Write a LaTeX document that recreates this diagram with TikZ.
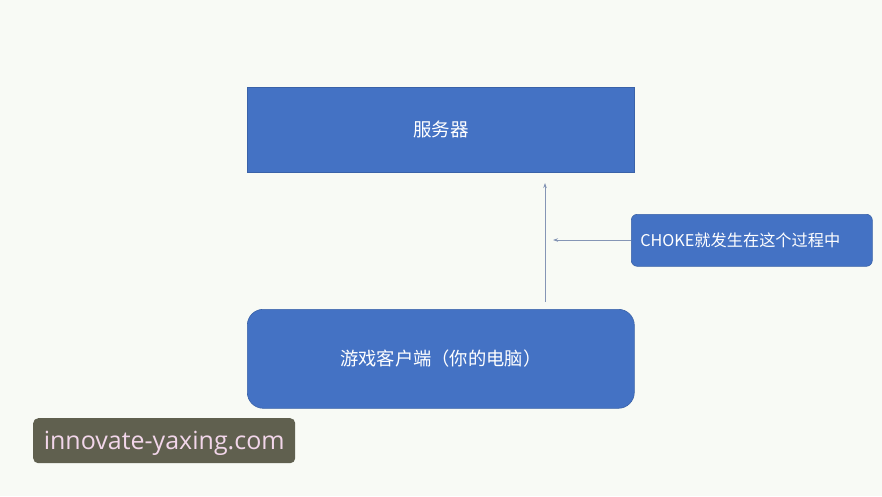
\documentclass[tikz,border=0pt]{standalone}
\usepackage{fontspec}
\newfontfamily\cjk{Noto Sans CJK SC}
\newfontfamily\wm{Open Sans}
\usetikzlibrary{arrows.meta}
\definecolor{bg}{HTML}{F8FAF5}
\definecolor{boxblue}{HTML}{4472C4}
\definecolor{boxedge}{HTML}{3A62A8}
\definecolor{arr}{HTML}{8595B5}
\definecolor{wmbg}{HTML}{60604F}
\definecolor{wmtext}{HTML}{F2D6EA}
\tikzset{
  bluebox/.style={fill=boxblue, draw=boxedge, line width=0.6pt, text=white, inner sep=0pt},
  conn/.style={draw=arr, line width=0.8pt, -{Stealth[length=5pt,width=3.5pt]}},
}
\begin{document}
\begin{tikzpicture}[x=1pt,y=-1pt]
\fill[bg] (0,0) rectangle (882,496);
\useasboundingbox (0,0) rectangle (882,496);
\node[bluebox, minimum width=387pt, minimum height=85pt, anchor=north west] (server) at (247,87) {\cjk\fontsize{18.5}{22}\selectfont 服务器};
\node[bluebox, rounded corners=16pt, minimum width=387pt, minimum height=99pt, anchor=north west] (client) at (247,309) {\cjk\fontsize{18.3}{22}\selectfont 游戏客户端（你的电脑）};
\node[bluebox, rounded corners=6pt, minimum width=241pt, minimum height=52pt, anchor=north west, text width=231pt, align=left] (choke) at (631,214) {\hspace*{4pt}\cjk\fontsize{16.2}{19}\selectfont CHOKE就发生在这个过程中};
\coordinate (a1) at (545,302);
\coordinate (a2) at (545,183);
\draw[conn] (a1) -- (a2);
\coordinate (h1) at (553,240);
\draw[conn] (choke.west |- h1) -- (h1);
\node[fill=wmbg, rounded corners=5pt, minimum width=262pt, minimum height=45pt, anchor=north west, text=wmtext, inner sep=0pt, text depth=0pt] (wm) at (33,418) {\wm\fontsize{25}{28}\selectfont innovate-yaxing.com};
\end{tikzpicture}
\end{document}
